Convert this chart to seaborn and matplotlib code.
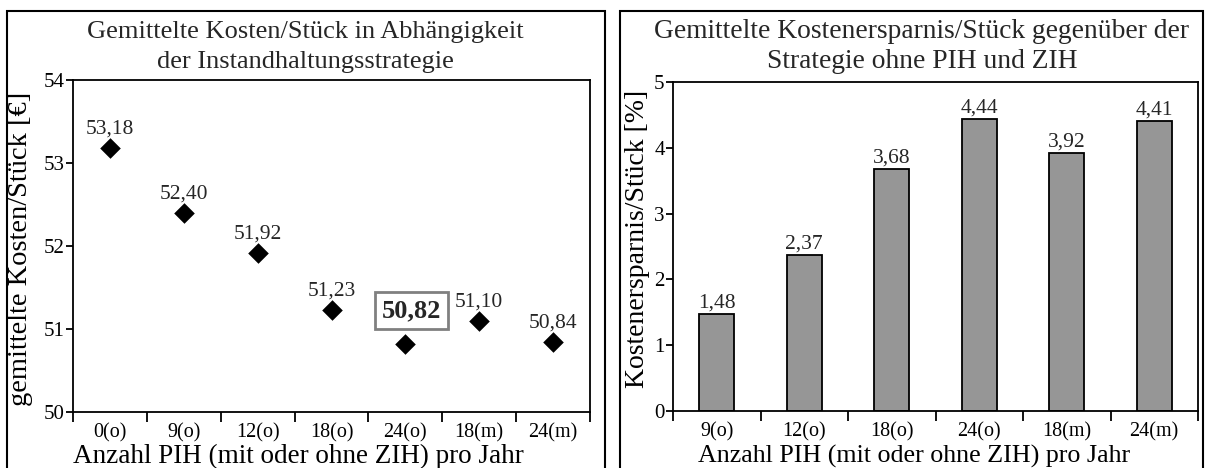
import matplotlib
matplotlib.use("Agg")
import matplotlib.pyplot as plt
import seaborn as sns
import pandas as pd
from matplotlib.patches import Rectangle
from matplotlib.ticker import FixedLocator

# Mean cost per unit for each maintenance strategy
cost_categories = ["0(o)", "9(o)", "12(o)", "18(o)", "24(o)", "18(m)", "24(m)"]
cost_values = [53.18, 52.40, 51.92, 51.23, 50.82, 51.10, 50.84]
best_index = 4

# Mean saving per unit relative to the strategy without PIH and ZIH
saving_categories = ["9(o)", "12(o)", "18(o)", "24(o)", "18(m)", "24(m)"]
saving_values = [1.48, 2.37, 3.68, 4.44, 3.92, 4.41]

cost_ticks = [50, 51, 52, 53, 54]
saving_ticks = [0, 1, 2, 3, 4, 5]

sns.set_theme(style="ticks")
plt.rcParams["font.family"] = ["Liberation Serif", "DejaVu Serif"]

W, H = 1205, 468
fig = plt.figure(figsize=(W / 100, H / 100), dpi=100)

def px_axes(x0, x1, ytop, ybot):
    return fig.add_axes([x0 / W, 1 - ybot / H, (x1 - x0) / W, (ybot - ytop) / H])

ax1 = px_axes(73, 590, 80, 412)
ax2 = px_axes(673, 1198, 82, 411)

def fmt(v):
    return f"{v:.2f}".replace(".", ",")

def style_axes(ax, n):
    ax.set_xlim(-0.5, n - 0.5)
    for s in ax.spines.values():
        s.set_visible(True)
        s.set_color("black")
        s.set_linewidth(1.3)
    ax.set_facecolor("white")
    ax.grid(False)
    ax.xaxis.set_minor_locator(FixedLocator([i - 0.5 for i in range(n + 1)]))
    ax.tick_params(axis="x", which="major", length=0, labelsize=14.5, pad=8, colors="black")
    ax.tick_params(axis="x", which="minor", length=7, width=1.3, direction="out", color="black")
    ax.tick_params(axis="y", which="major", length=5, width=1.3, direction="out",
                   labelsize=15, pad=1, colors="black")

# Left: cost per unit
df_cost = pd.DataFrame({"Strategie": cost_categories, "Kosten": cost_values})
sns.scatterplot(data=df_cost, x="Strategie", y="Kosten", ax=ax1, marker="D",
                s=110, color="black", edgecolor="black", linewidth=0, zorder=3)
style_axes(ax1, len(cost_categories))
ax1.set_ylim(50, 54)
ax1.set_yticks(cost_ticks)
ax1.set_yticklabels([str(t) for t in cost_ticks])
ax1.set_xlabel("Anzahl PIH (mit oder ohne ZIH) pro Jahr", fontsize=19.5, color="black")
ax1.xaxis.set_label_coords(0.435, -0.097)
ax1.set_ylabel("gemittelte Kosten/Stück [€]", fontsize=20.5, color="black")
ax1.yaxis.set_label_coords(-0.077, 0.49)

for i, v in enumerate(cost_values):
    if i == best_index:
        ax1.annotate(fmt(v), (i, v), xytext=(4.3, 24), textcoords="offset points",
                     ha="center", va="center", fontsize=19, fontweight="bold",
                     bbox=dict(boxstyle="square,pad=0.27", fc="white", ec="#808080", lw=2))
    else:
        ax1.annotate(fmt(v), (i, v), xytext=(0, 13.7), textcoords="offset points",
                     ha="center", va="center", fontsize=15.5)

# Right: relative saving per unit
df_save = pd.DataFrame({"Strategie": saving_categories, "Ersparnis": saving_values})
sns.barplot(data=df_save, x="Strategie", y="Ersparnis", ax=ax2, width=0.4,
            color="#969696", edgecolor="black", linewidth=1.3, saturation=1)
style_axes(ax2, len(saving_categories))
ax2.set_ylim(0, 5)
ax2.set_yticks(saving_ticks)
ax2.set_yticklabels([str(t) for t in saving_ticks])
ax2.set_xlabel("Anzahl PIH (mit oder ohne ZIH) pro Jahr", fontsize=18.7, color="black")
ax2.xaxis.set_label_coords(0.459, -0.102)
ax2.set_ylabel("Kostenersparnis/Stück [%]", fontsize=20, color="black")
ax2.yaxis.set_label_coords(-0.043, 0.524)
for i, v in enumerate(saving_values):
    ax2.annotate(fmt(v), (i, v), xytext=(0, 1), textcoords="offset points",
                 ha="center", va="bottom", fontsize=15.5)

# Panel frames and titles
for x0, x1 in [(7, 605), (620, 1203)]:
    fig.patches.append(Rectangle((x0 / W, -0.1), (x1 - x0) / W, 1.1 - 11 / H,
                                 transform=fig.transFigure, fill=False,
                                 ec="black", lw=1.5))

titles = [
    (305, 19, ["Gemittelte Kosten/Stück in Abhängigkeit", "der Instandhaltungsstrategie"]),
    (922, 19.8, ["Gemittelte Kostenersparnis/Stück gegenüber der", "Strategie ohne PIH und ZIH"]),
]
for xc, size, lines in titles:
    for line, yb in zip(lines, [38, 68]):
        fig.text(xc / W, 1 - yb / H, line, ha="center", va="baseline", fontsize=size)

fig.savefig("out.png", dpi=100, facecolor="white")
